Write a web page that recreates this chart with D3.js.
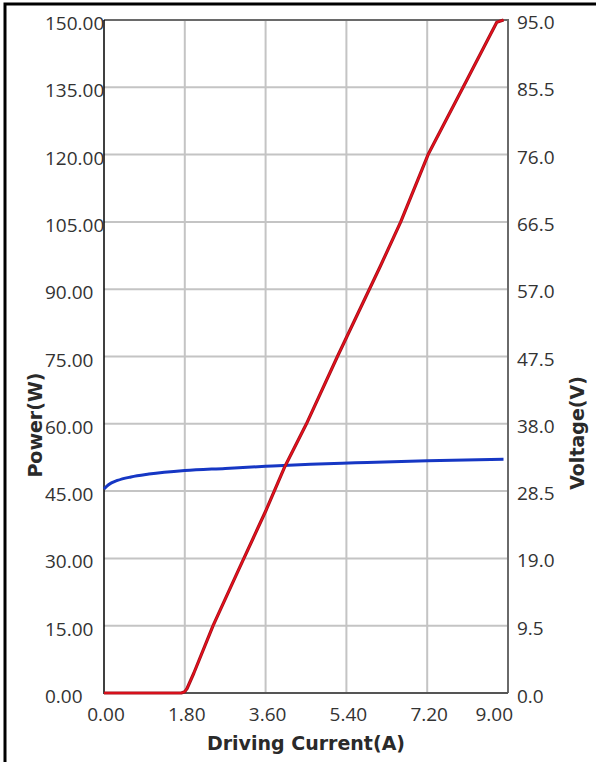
<!DOCTYPE html>
<html>
<head>
    <title>Power and Voltage vs Driving Current</title>
    <script src="https://d3js.org/d3.v7.min.js"></script>
    <style>
        html, body {
            margin: 0;
            background: #fff;
            overflow: hidden;
        }
        .tick-label {
            font-family: "Open Sans", sans-serif;
            font-size: 19px;
            fill: #333;
        }
        .axis-title {
            font-family: "DejaVu Sans", sans-serif;
            font-size: 19px;
            font-weight: bold;
            fill: #2a2a2a;
        }
    </style>
</head>
<body>
    <div id="chart"></div>

    <script>
        // Data
        const powerCurrent = [0, 1.72, 1.8, 1.85, 2.0, 2.43, 3.0, 3.6, 4.03, 4.51, 5.2, 6.15, 6.61, 7.22, 8.0, 8.75, 8.9];
        const powerValues  = [0, 0, 0.3, 1.0, 4.4, 15, 27.5, 40.5, 50.5, 60, 75, 95, 105, 120, 135, 149.5, 150];

        const voltageCurrent = [0, 0.1, 0.3, 0.6, 1.0, 1.8, 2.7, 3.6, 4.6, 5.6, 7.2, 8.9];
        const voltageValues  = [28.8, 29.4, 30.0, 30.5, 30.9, 31.4, 31.7, 32.0, 32.3, 32.5, 32.8, 33.0];

        const xTicks = [0, 1.8, 3.6, 5.4, 7.2, 9.0];
        const powerTicks = d3.range(0, 151, 15);
        const voltageTicks = d3.range(0, 11).map(i => i * 9.5);

        const W = 596, H = 762;
        const plot = {left: 104, top: 20, right: 508, bottom: 693};

        const svg = d3.select("#chart")
            .append("svg")
            .attr("width", W)
            .attr("height", H);

        // outer frame (top + left edge visible)
        svg.append("path")
            .attr("d", `M5,${H + 5} V4 H${W + 5}`)
            .attr("fill", "none")
            .attr("stroke", "#000")
            .attr("stroke-width", 3);

        const x = d3.scaleLinear().domain([0, 9]).range([plot.left, plot.right]);
        const yP = d3.scaleLinear().domain([0, 150]).range([plot.bottom, plot.top]);
        const yV = d3.scaleLinear().domain([0, 95]).range([plot.bottom, plot.top]);

        // grid
        const grid = svg.append("g")
            .attr("stroke", "#c4c4c4")
            .attr("stroke-width", 2);
        grid.selectAll("line.h")
            .data(powerTicks.slice(1, -1))
            .join("line")
            .attr("x1", plot.left).attr("x2", plot.right)
            .attr("y1", d => yP(d)).attr("y2", d => yP(d));
        grid.selectAll("line.v")
            .data(xTicks.slice(1, -1))
            .join("line")
            .attr("x1", d => x(d)).attr("x2", d => x(d))
            .attr("y1", plot.top).attr("y2", plot.bottom);

        // plot border
        svg.append("path")
            .attr("d", `M${plot.left},${plot.top} H${plot.right} V${plot.bottom}`)
            .attr("fill", "none")
            .attr("stroke", "#6a6a6a")
            .attr("stroke-width", 2);
        svg.append("line")
            .attr("x1", plot.left).attr("x2", plot.right)
            .attr("y1", plot.bottom).attr("y2", plot.bottom)
            .attr("stroke", "#555")
            .attr("stroke-width", 2);
        svg.append("line")
            .attr("x1", plot.left).attr("x2", plot.left)
            .attr("y1", plot.top).attr("y2", plot.bottom + 1)
            .attr("stroke", "#000")
            .attr("stroke-width", 1.5);

        // left tick labels (left aligned)
        svg.append("g").selectAll("text")
            .data(powerTicks)
            .join("text")
            .attr("class", "tick-label")
            .attr("x", 45)
            .attr("y", d => yP(d) + 10)
            .text(d => d.toFixed(2));

        // right tick labels
        svg.append("g").selectAll("text")
            .data(voltageTicks)
            .join("text")
            .attr("class", "tick-label")
            .attr("x", 517)
            .attr("y", d => yV(d) + (d === 0 ? 10 : 9))
            .text(d => d.toFixed(1));

        // bottom tick labels
        svg.append("g").selectAll("text")
            .data(xTicks)
            .join("text")
            .attr("class", "tick-label")
            .attr("x", d => d === 9 ? 513 : x(d) + 2)
            .attr("y", 721)
            .attr("text-anchor", d => d === 9 ? "end" : "middle")
            .text(d => d.toFixed(2));

        // axis titles
        svg.append("text")
            .attr("class", "axis-title")
            .attr("x", 306)
            .attr("y", 750)
            .attr("text-anchor", "middle")
            .text("Driving Current(A)");
        svg.append("text")
            .attr("class", "axis-title")
            .attr("transform", "translate(42,425) rotate(-90)")
            .attr("text-anchor", "middle")
            .text("Power(W)");
        svg.append("text")
            .attr("class", "axis-title")
            .attr("transform", "translate(584,433) rotate(-90)")
            .attr("text-anchor", "middle")
            .text("Voltage(V)");

        // voltage line (blue)
        const vLine = d3.line()
            .x(d => x(d[0]))
            .y(d => yV(d[1]))
            .curve(d3.curveMonotoneX);
        svg.append("path")
            .datum(d3.zip(voltageCurrent, voltageValues))
            .attr("d", vLine)
            .attr("fill", "none")
            .attr("stroke", "#1637c4")
            .attr("stroke-width", 3);

        // power line (red)
        const pLine = d3.line()
            .x(d => x(d[0]))
            .y(d => yP(d[1]));
        svg.append("path")
            .datum(d3.zip(powerCurrent, powerValues))
            .attr("d", pLine)
            .attr("fill", "none")
            .attr("stroke", "#a0101a")
            .attr("stroke-width", 3.2)
            .attr("stroke-linejoin", "round");
        svg.append("path")
            .datum(d3.zip(powerCurrent, powerValues))
            .attr("d", pLine)
            .attr("fill", "none")
            .attr("stroke", "#e8101c")
            .attr("stroke-width", 1.6)
            .attr("stroke-linejoin", "round");
    </script>
</body>
</html>
